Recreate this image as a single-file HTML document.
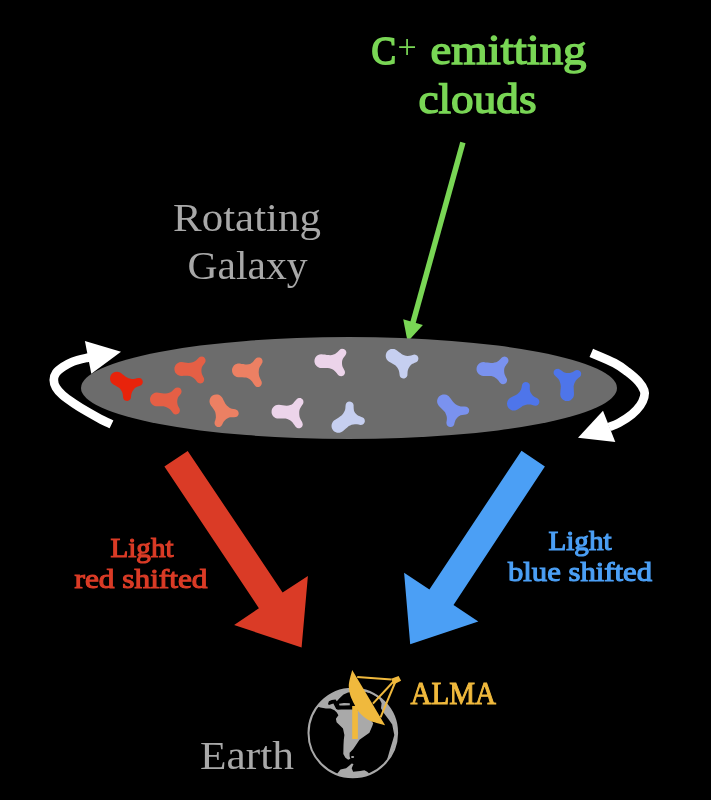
<!DOCTYPE html>
<html><head><meta charset="utf-8"><style>
html,body{margin:0;padding:0;background:#000;width:711px;height:800px;overflow:hidden}
svg{display:block;will-change:transform}
</style></head><body>
<svg width="711" height="800" viewBox="0 0 711 800">
<rect width="711" height="800" fill="#000"/>
<!-- texts -->
<g font-family="Liberation Serif" fill="#79d655" stroke="#79d655" stroke-width="1.4">
<text x="371.5" y="64" font-size="40" stroke-width="1.9" textLength="24.5" lengthAdjust="spacingAndGlyphs">C</text>
<text x="397.5" y="57.8" font-size="34" stroke-width="0">+</text>
<text x="430.5" y="63.8" font-size="41.5" textLength="156" lengthAdjust="spacingAndGlyphs">emitting</text>
<text x="418.5" y="112.8" font-size="41.5" textLength="118" lengthAdjust="spacingAndGlyphs">clouds</text>
</g>
<g font-family="Liberation Serif" fill="#a8a8a8">
<text x="173" y="231" font-size="41" textLength="148" lengthAdjust="spacingAndGlyphs">Rotating</text>
<text x="187.5" y="278.7" font-size="41" textLength="120" lengthAdjust="spacingAndGlyphs">Galaxy</text>
<text x="200" y="768.5" font-size="40" textLength="94" lengthAdjust="spacingAndGlyphs">Earth</text>
</g>
<g font-family="Liberation Serif" stroke-width="1.1">
<text x="110.5" y="556.8" font-size="26.8" fill="#da3b26" stroke="#da3b26" textLength="63" lengthAdjust="spacingAndGlyphs">Light</text>
<text x="74.5" y="588" font-size="27.5" fill="#da3b26" stroke="#da3b26" textLength="133" lengthAdjust="spacingAndGlyphs">red shifted</text>
<text x="548.5" y="549.6" font-size="26.8" fill="#4b9ff5" stroke="#4b9ff5" textLength="63" lengthAdjust="spacingAndGlyphs">Light</text>
<text x="508" y="580.5" font-size="27.5" fill="#4b9ff5" stroke="#4b9ff5" textLength="144" lengthAdjust="spacingAndGlyphs">blue shifted</text>
</g>
<text x="410.5" y="704.3" font-family="Liberation Serif" font-size="31" fill="#f0b93d" stroke="#f0b93d" stroke-width="1.0" textLength="85.5" lengthAdjust="spacingAndGlyphs">ALMA</text>
<!-- green arrow -->
<line x1="462.9" y1="142.4" x2="411.5" y2="328" stroke="#79d655" stroke-width="5.5"/>
<polygon fill="#79d655" points="403.2,319.3 407.6,341.8 422.9,325"/>
<!-- galaxy -->
<ellipse cx="349" cy="388" rx="268" ry="51" fill="#6c6c6c"/>
<path fill="#e8230b" d="M128.2 400.8 L129.5 400.1 L130.5 399.0 L131.0 397.6 L131.1 395.8 L131.4 394.0 L131.9 392.4 L132.5 391.2 L133.3 390.0 L134.2 388.8 L135.3 387.8 L136.5 387.1 L137.9 386.5 L139.3 386.0 L140.7 385.4 L141.9 384.4 L142.6 383.2 L142.8 381.4 L142.3 380.0 L141.3 378.8 L140.1 378.1 L138.3 377.9 L136.7 378.3 L135.1 378.7 L133.5 379.0 L131.7 379.0 L129.9 378.6 L128.5 378.2 L127.1 377.6 L125.7 376.8 L124.7 376.0 L123.5 375.0 L122.4 374.2 L121.3 373.3 L120.1 372.5 L118.7 371.9 L116.9 371.7 L115.1 371.9 L113.7 372.5 L112.5 373.3 L111.5 374.3 L110.7 375.6 L110.2 377.0 L110.0 378.8 L110.3 380.6 L110.9 382.0 L111.7 383.1 L112.7 384.1 L113.9 384.8 L115.3 385.6 L116.5 386.3 L117.7 387.0 L119.0 387.8 L120.1 388.8 L120.9 389.9 L121.7 391.2 L122.3 392.5 L122.7 394.0 L122.9 395.8 L123.1 397.8 L123.7 399.2 L124.6 400.2 L125.9 400.8 L127.9 400.9Z"/>
<path fill="#e55f45" d="M201.4 383.3 L202.7 382.7 L203.7 381.5 L204.2 380.1 L204.0 378.3 L203.3 376.9 L202.7 375.7 L202.0 374.3 L201.6 372.7 L201.4 370.9 L201.5 369.1 L201.8 367.5 L202.5 366.1 L203.3 364.9 L204.2 363.7 L205.1 362.5 L205.6 361.1 L205.4 359.3 L204.7 357.9 L203.7 357.1 L202.1 356.5 L200.2 356.7 L199.0 357.5 L198.0 358.5 L197.0 359.5 L196.0 360.5 L194.8 361.3 L193.4 362.0 L191.8 362.5 L190.2 362.8 L188.4 362.9 L186.7 362.7 L184.8 362.5 L183.2 362.3 L181.2 362.1 L179.4 362.3 L178.0 362.9 L176.8 363.7 L175.8 364.7 L175.1 366.0 L174.5 367.5 L174.4 369.3 L174.7 371.0 L175.2 372.4 L176.1 373.5 L177.1 374.5 L178.4 375.3 L179.8 375.8 L181.8 375.9 L183.8 375.8 L185.8 375.8 L187.8 375.8 L189.6 376.1 L191.1 376.6 L192.4 377.3 L193.6 378.1 L194.7 379.0 L195.7 380.1 L196.4 381.1 L197.3 382.3 L198.5 383.1 L200.2 383.5Z"/>
<path fill="#ec8063" d="M259.0 386.9 L260.3 386.2 L261.3 385.1 L261.8 383.6 L261.7 381.8 L261.1 380.4 L260.4 379.1 L259.7 377.6 L259.2 376.2 L258.9 374.6 L258.7 372.6 L258.8 370.6 L259.0 368.9 L259.5 367.4 L260.3 366.1 L261.1 364.9 L261.8 363.6 L262.5 362.2 L262.5 360.4 L261.9 359.1 L261.0 358.1 L259.7 357.4 L257.7 357.4 L256.3 358.0 L255.3 359.0 L254.4 360.1 L253.5 361.2 L252.6 362.2 L251.5 363.1 L250.1 363.9 L248.7 364.3 L246.9 364.6 L245.1 364.4 L243.3 364.1 L241.5 363.9 L239.9 363.6 L237.9 363.6 L236.3 364.0 L235.1 364.6 L233.9 365.6 L233.1 366.7 L232.4 368.1 L232.0 369.6 L232.1 371.6 L232.5 373.1 L233.3 374.4 L234.2 375.4 L235.3 376.3 L236.7 376.9 L238.3 377.3 L240.3 377.3 L242.3 377.3 L244.3 377.4 L246.1 377.6 L247.5 378.1 L248.9 378.8 L250.1 379.6 L251.1 380.4 L252.1 381.5 L252.9 382.7 L253.7 383.9 L254.5 385.1 L255.5 386.2 L256.8 386.9 L258.7 386.9Z"/>
<path fill="#e55f45" d="M175.9 414.4 L177.6 414.0 L178.8 413.2 L179.6 412.0 L179.9 410.4 L179.6 408.8 L178.9 407.6 L178.2 406.2 L177.6 404.8 L177.3 403.1 L177.2 401.2 L177.4 399.4 L177.9 397.8 L178.6 396.6 L179.5 395.5 L180.3 394.4 L181.2 393.2 L181.6 391.6 L181.3 389.9 L180.5 388.6 L179.3 387.8 L177.7 387.4 L175.9 387.8 L174.7 388.6 L173.7 389.6 L172.7 390.6 L171.7 391.5 L170.5 392.2 L169.1 392.8 L167.5 393.2 L165.7 393.5 L163.7 393.4 L162.0 393.2 L160.3 392.9 L158.5 392.7 L156.7 392.5 L154.9 392.8 L153.5 393.4 L152.4 394.2 L151.4 395.2 L150.7 396.4 L150.1 398.0 L150.0 399.8 L150.3 401.4 L150.9 402.8 L151.8 404.0 L152.9 405.0 L154.1 405.7 L155.7 406.2 L157.5 406.3 L159.5 406.3 L161.5 406.3 L163.5 406.3 L165.1 406.7 L166.5 407.2 L167.9 407.9 L169.1 408.7 L170.2 409.6 L171.1 410.6 L172.0 411.8 L172.9 413.0 L173.9 413.9 L175.5 414.4Z"/>
<path fill="#ec8063" d="M219.7 426.9 L221.0 426.2 L222.0 425.1 L222.6 423.8 L223.2 422.5 L224.0 421.3 L225.0 420.2 L226.0 419.3 L227.2 418.5 L228.6 417.7 L230.0 417.3 L232.0 417.2 L234.0 417.3 L235.9 417.1 L237.2 416.4 L238.2 415.3 L238.7 413.9 L238.5 412.1 L237.8 410.8 L236.8 409.9 L235.2 409.3 L233.6 409.1 L231.8 408.7 L230.4 408.2 L229.1 407.5 L228.0 406.6 L227.0 405.7 L226.0 404.6 L225.2 403.4 L224.5 402.1 L223.8 400.7 L223.2 399.5 L222.5 398.1 L221.7 396.9 L220.7 395.9 L219.4 395.1 L218.0 394.6 L216.2 394.4 L214.4 394.7 L213.0 395.3 L211.9 396.1 L210.9 397.1 L210.2 398.3 L209.6 399.9 L209.5 401.7 L209.8 403.3 L210.4 404.7 L211.2 405.9 L212.1 407.1 L212.9 408.3 L213.8 409.5 L214.6 410.7 L215.2 412.1 L215.6 413.7 L215.8 415.3 L215.9 417.3 L215.6 419.0 L215.2 420.5 L214.6 422.1 L214.6 423.9 L215.2 425.3 L216.1 426.3 L217.4 426.9 L219.4 427.0Z"/>
<path fill="#ecd4ea" d="M342.2 376.1 L343.5 375.4 L344.5 374.3 L345.0 372.9 L344.8 371.1 L344.1 369.7 L343.5 368.5 L342.7 367.1 L342.3 365.7 L342.0 363.9 L342.0 361.9 L342.3 360.2 L342.9 358.8 L343.7 357.6 L344.5 356.5 L345.4 355.3 L346.1 354.1 L346.4 352.3 L345.9 350.8 L345.0 349.7 L343.7 348.9 L341.9 348.7 L340.3 349.3 L339.3 350.2 L338.3 351.2 L337.3 352.2 L336.3 353.1 L335.0 353.9 L333.5 354.5 L332.0 354.9 L330.3 355.2 L328.3 355.1 L326.7 354.9 L324.9 354.6 L323.1 354.4 L321.3 354.2 L319.5 354.4 L318.1 355.0 L316.9 355.8 L315.9 356.8 L315.1 358.1 L314.6 359.5 L314.4 361.3 L314.7 363.1 L315.3 364.5 L316.1 365.6 L317.1 366.6 L318.3 367.3 L319.9 367.9 L321.7 368.0 L323.7 368.0 L325.7 368.0 L327.7 368.0 L329.5 368.2 L331.0 368.7 L332.3 369.3 L333.6 370.1 L334.7 370.9 L335.7 371.9 L336.6 373.1 L337.5 374.3 L338.4 375.3 L339.7 376.1 L341.5 376.3Z"/>
<path fill="#ecd4ea" d="M299.7 428.3 L301.2 427.6 L302.2 426.5 L302.8 424.7 L302.4 422.7 L301.7 421.3 L300.9 419.9 L300.2 418.5 L299.6 416.9 L299.3 414.9 L299.2 412.9 L299.3 410.9 L299.8 409.1 L300.5 407.7 L301.4 406.3 L302.2 405.1 L303.1 403.7 L303.5 401.9 L303.1 400.1 L302.1 398.9 L300.7 398.1 L298.6 398.0 L297.1 398.7 L296.0 399.9 L295.0 401.1 L294.0 402.3 L293.0 403.4 L291.8 404.4 L290.3 405.1 L288.6 405.6 L286.6 405.8 L284.6 405.6 L282.6 405.3 L280.8 405.1 L278.8 404.8 L276.8 405.0 L275.2 405.6 L273.9 406.5 L272.8 407.7 L272.0 409.1 L271.6 410.7 L271.6 412.9 L272.1 414.5 L272.9 415.9 L274.0 417.0 L275.4 417.9 L277.0 418.5 L279.0 418.6 L281.2 418.6 L283.4 418.6 L285.6 418.6 L287.4 419.0 L289.0 419.7 L290.4 420.5 L291.6 421.5 L292.6 422.5 L293.6 423.9 L294.4 425.1 L295.4 426.5 L296.4 427.6 L297.9 428.3Z"/>
<path fill="#c6cff0" d="M404.4 378.4 L405.8 377.8 L406.8 376.8 L407.4 375.4 L407.5 373.6 L407.6 371.7 L407.9 370.0 L408.5 368.6 L409.2 367.2 L410.0 366.0 L410.9 365.0 L412.0 364.1 L413.4 363.4 L414.8 362.8 L416.1 362.2 L417.3 361.4 L418.1 360.2 L418.4 358.6 L418.1 357.0 L417.3 355.8 L416.1 355.0 L414.4 354.6 L412.6 355.0 L411.1 355.4 L409.6 355.8 L407.6 356.0 L405.8 355.7 L404.2 355.2 L402.8 354.7 L401.6 354.0 L400.4 353.1 L399.2 352.2 L398.2 351.4 L397.0 350.5 L395.8 349.7 L394.4 349.1 L392.6 348.9 L390.8 349.1 L389.4 349.7 L388.2 350.5 L387.2 351.5 L386.4 352.8 L385.9 354.2 L385.7 356.0 L386.0 357.8 L386.6 359.2 L387.4 360.3 L388.4 361.3 L389.6 362.0 L391.0 362.8 L392.2 363.5 L393.5 364.2 L394.8 365.0 L395.8 365.8 L396.8 366.9 L397.6 368.0 L398.4 369.4 L398.9 370.8 L399.3 372.4 L399.5 374.2 L399.8 376.0 L400.5 377.2 L401.6 378.0 L403.2 378.5Z"/>
<path fill="#c6cff0" d="M339.6 432.7 L341.0 432.3 L342.4 431.5 L343.4 430.7 L344.5 429.7 L345.6 428.8 L346.6 427.9 L347.8 426.9 L348.8 426.1 L350.2 425.4 L351.6 424.8 L353.2 424.4 L355.0 424.2 L357.0 424.2 L358.6 424.5 L360.4 424.9 L362.2 424.7 L363.5 423.9 L364.4 422.8 L364.9 421.3 L364.6 419.5 L363.9 418.3 L362.8 417.4 L361.4 416.9 L359.8 416.3 L358.4 415.7 L357.2 414.9 L356.2 414.0 L355.2 412.9 L354.4 411.7 L353.9 410.3 L353.7 408.5 L353.6 406.5 L353.6 405.1 L353.1 403.5 L352.2 402.5 L350.8 401.7 L349.0 401.5 L347.5 402.1 L346.4 403.1 L345.8 404.3 L345.5 406.1 L345.4 407.9 L345.1 409.7 L344.6 411.1 L343.8 412.5 L343.0 413.7 L342.2 414.7 L341.2 415.7 L340.0 416.6 L338.8 417.4 L337.6 418.2 L336.4 419.0 L335.2 419.8 L334.0 420.6 L333.0 421.6 L332.2 422.9 L331.7 424.3 L331.5 426.1 L331.8 427.9 L332.4 429.3 L333.2 430.4 L334.2 431.4 L335.4 432.1 L337.0 432.7 L338.8 432.8Z"/>
<path fill="#7a92ef" d="M504.0 384.1 L505.4 383.5 L506.4 382.5 L507.0 381.1 L507.0 379.3 L506.4 377.9 L505.7 376.7 L505.0 375.3 L504.5 373.9 L504.2 372.3 L504.1 370.3 L504.3 368.5 L504.8 367.0 L505.6 365.7 L506.4 364.6 L507.2 363.5 L508.1 362.3 L508.5 360.7 L508.2 359.0 L507.4 357.7 L506.2 356.9 L504.6 356.5 L502.8 356.9 L501.6 357.7 L500.7 358.7 L499.7 359.7 L498.7 360.7 L497.6 361.5 L496.2 362.2 L494.6 362.6 L493.0 363.0 L491.0 363.1 L489.2 362.8 L487.4 362.6 L485.6 362.4 L483.8 362.1 L481.8 362.3 L480.4 362.8 L479.2 363.5 L478.2 364.5 L477.3 365.7 L476.8 367.1 L476.5 368.9 L476.7 370.7 L477.2 372.1 L478.0 373.3 L479.0 374.3 L480.2 375.1 L481.8 375.7 L483.6 375.9 L485.6 375.9 L487.6 375.9 L489.6 375.9 L491.4 376.1 L492.9 376.5 L494.2 377.1 L495.6 377.9 L496.7 378.7 L497.7 379.7 L498.6 380.8 L499.4 381.9 L500.3 383.1 L501.6 383.9 L503.2 384.2Z"/>
<path fill="#7a92ef" d="M450.4 427.1 L452.1 426.7 L453.3 425.9 L454.1 424.7 L454.5 423.1 L455.0 421.5 L455.5 420.1 L456.2 418.9 L457.2 417.7 L458.2 416.7 L459.3 415.9 L460.6 415.3 L462.2 414.9 L464.0 414.7 L465.8 414.5 L467.3 413.9 L468.4 412.9 L469.0 411.7 L469.2 410.1 L468.7 408.5 L467.8 407.5 L466.4 406.7 L464.6 406.5 L462.8 406.5 L460.8 406.4 L459.2 406.1 L457.8 405.5 L456.4 404.7 L455.2 403.9 L454.2 403.1 L453.2 401.9 L452.4 400.9 L451.5 399.7 L450.6 398.6 L449.8 397.5 L448.8 396.3 L447.7 395.5 L446.4 394.8 L444.8 394.4 L442.8 394.5 L441.4 394.9 L440.0 395.7 L439.0 396.5 L438.1 397.7 L437.5 399.1 L437.1 400.7 L437.2 402.5 L437.7 404.1 L438.4 405.3 L439.4 406.4 L440.4 407.4 L441.4 408.4 L442.4 409.4 L443.4 410.4 L444.4 411.4 L445.2 412.6 L445.8 413.9 L446.4 415.5 L446.8 417.1 L446.9 418.9 L446.7 420.7 L446.4 422.5 L446.6 424.3 L447.4 425.7 L448.4 426.6 L450.0 427.1Z"/>
<path fill="#4e75ea" d="M515.1 410.5 L516.5 410.1 L517.9 409.3 L519.1 408.5 L520.2 407.7 L521.4 406.9 L522.5 406.1 L523.9 405.4 L525.4 404.9 L527.1 404.6 L528.9 404.4 L530.7 404.6 L532.3 405.0 L533.9 405.5 L535.5 405.8 L537.1 405.4 L538.3 404.6 L539.1 403.3 L539.4 401.7 L539.0 400.1 L538.2 398.9 L536.9 398.1 L535.7 397.5 L534.3 396.7 L533.2 395.9 L532.3 394.9 L531.4 393.7 L530.6 392.5 L530.0 391.1 L529.8 389.3 L529.8 387.3 L529.9 385.7 L529.5 384.1 L528.5 382.9 L527.3 382.2 L525.5 381.9 L523.9 382.4 L522.9 383.3 L522.1 384.7 L521.8 386.3 L521.5 387.9 L521.0 389.5 L520.3 390.8 L519.5 391.9 L518.5 393.0 L517.5 394.0 L516.3 394.8 L515.0 395.5 L513.7 396.1 L512.3 396.8 L510.9 397.5 L509.7 398.2 L508.7 399.2 L507.9 400.3 L507.3 401.7 L507.0 403.5 L507.2 405.3 L507.7 406.7 L508.5 408.0 L509.5 409.0 L510.7 409.8 L512.1 410.4 L513.9 410.6Z"/>
<path fill="#4e75ea" d="M568.7 400.9 L570.2 400.4 L571.4 399.6 L572.4 398.6 L573.2 397.4 L573.8 395.9 L574.0 394.1 L573.9 392.1 L573.8 390.3 L573.7 388.3 L573.6 386.3 L574.0 384.5 L574.5 383.1 L575.2 381.7 L575.9 380.5 L576.8 379.5 L577.8 378.5 L579.0 377.6 L580.1 376.7 L580.9 375.5 L581.2 373.7 L580.8 372.1 L579.8 370.9 L578.6 370.2 L576.8 369.9 L575.2 370.4 L574.0 371.2 L572.8 371.9 L571.4 372.5 L569.8 373.0 L568.0 373.1 L566.2 373.0 L564.6 372.6 L563.3 371.9 L562.2 371.1 L561.0 370.2 L559.8 369.4 L558.4 368.8 L556.4 368.9 L555.2 369.5 L554.2 370.6 L553.6 372.1 L553.7 373.7 L554.4 375.1 L555.4 376.1 L556.4 377.1 L557.4 378.0 L558.4 379.1 L559.2 380.3 L559.8 381.7 L560.2 383.1 L560.6 384.7 L560.8 386.5 L560.7 388.3 L560.5 390.1 L560.4 391.9 L560.2 393.9 L560.4 395.8 L560.9 397.3 L561.7 398.5 L562.7 399.5 L563.9 400.3 L565.4 400.9 L567.2 401.1Z"/>
<!-- white arrows -->
<path d="M111.5 424.3 C109.58 423.38 104.08 420.92 100 418.8 C95.92 416.68 91.30 414.13 87 411.6 C82.70 409.07 78.28 406.37 74.2 403.6 C70.12 400.83 65.53 397.68 62.5 395 C59.47 392.32 57.45 390.00 56 387.5 C54.55 385.00 53.80 382.42 53.8 380 C53.80 377.58 54.47 375.18 56 373 C57.53 370.82 60.23 368.78 63 366.9 C65.77 365.02 68.52 363.23 72.6 361.7 C76.68 360.17 84.27 358.48 87.5 357.7 C90.73 356.92 91.25 357.12 92 357" fill="none" stroke="#fff" stroke-width="8.7"/>
<polygon fill="#fff" points="84.9,341.1 121,351.8 91.3,373.7"/>
<path d="M591.3 352.9 C595.15 354.58 608.37 359.85 614.4 363 C620.43 366.15 623.48 368.72 627.5 371.8 C631.52 374.88 635.72 378.37 638.5 381.5 C641.28 384.63 643.25 388.05 644.2 390.6 C645.15 393.15 644.87 394.32 644.2 396.8 C643.53 399.28 642.25 402.58 640.2 405.5 C638.15 408.42 635.47 411.38 631.9 414.3 C628.33 417.22 622.62 420.88 618.8 423 C614.98 425.12 610.63 426.33 609 427" fill="none" stroke="#fff" stroke-width="8.8"/>
<polygon fill="#fff" points="603,410.8 578,437.8 615.3,442"/>
<!-- red arrow -->
<polygon fill="#da3b26" points="164.4,466.4 187.7,450.9 282.6,592.5 307.9,576.1 301.6,647.5 234.1,625 258.9,608.2"/>
<!-- blue arrow -->
<polygon fill="#4b9ff5" points="544.9,466.4 521.5,450.7 429.4,589.4 404.1,572.7 410.2,644.2 478.3,621.6 453.5,605"/>
<!-- globe -->
<circle cx="352.8" cy="733" r="44" fill="#a9a9a9"/>
<path fill="#000" d="M318.2 706.8 L320.4 707.4 L326.0 708.5 L330.6 708.5 L334.5 710.2 L336.8 712.4 L338.4 715.3 L335.9 718.8 L336.6 722.3 L340.2 725.8 L343.0 728.6 L344.4 735.0 L343.8 739.7 L343.5 745.0 L343.3 754.1 L345.4 757.7 L348.2 759.8 L350.3 758.7 L349.6 756.3 L349.6 752.7 L353.1 749.2 L356.0 745.0 L359.5 739.7 L369.4 732.8 L372.3 725.9 L373.2 723.3 L368.0 716.0 L360.0 711.0 L352.0 709.5 L345.0 709.5 L341.3 709.5 L337.9 709.8 L336.2 709.0 L334.5 705.7 L333.4 703.4 L328.9 705.1 L328.0 704.0 L328.9 701.2 L331.7 700.0 L335.6 699.5 L336.8 701.2 L340.0 697.8 L343.5 694.4 L348.0 692.5 L358.0 691.0 L366.0 692.0 L373.0 694.0 L379.5 699.0 L381.6 703.3 L381.0 708.2 L383.8 713.0 L388.7 719.5 L392.2 724.4 L394.3 735.0 L393.0 739.7 L390.0 749.5 L388.0 756.4 L386.0 763.0 L387.7 764.5 L384.6 767.6 L381.3 770.4 L377.7 772.8 L374.0 775.0 L370.0 776.7 L368.6 773.1 L367.2 771.7 L364.4 770.3 L360.2 771.0 L353.1 771.7 L351.7 768.2 L353.5 764.0 L351.7 763.6 L348.9 766.1 L346.1 768.2 L340.5 769.6 L337.7 773.1 L336.2 777.0 L332.4 775.3 L328.8 773.4 L325.3 771.1 L322.0 768.5 L319.0 765.7 L316.2 762.5 L313.8 759.2 L311.6 755.6 L309.8 751.9 L308.3 748.0 L307.1 744.0 L306.3 740.0 L305.9 735.8 L305.8 731.7 L306.1 727.5 L306.8 723.4 L307.8 719.4 L309.2 715.5 L310.9 711.7 L313.0 708.1 L315.3 704.6Z"/>
<ellipse cx="352.6" cy="757" rx="1.6" ry="1.1" fill="#a9a9a9"/>
<path fill="#a9a9a9" d="M339 703.8 L344 703 L349.8 703.3 L349.8 705.2 L344 705.5 L339.5 705.6Z"/>
<circle cx="352.8" cy="733" r="44.3" fill="none" stroke="#a9a9a9" stroke-width="2"/>
<!-- antenna -->
<g fill="#f0b93d">
<rect x="352.2" y="706" width="5.7" height="33"/>
<path d="M352.2 669.9 C351.72 671.80 349.85 678.32 349.3 681.3 C348.75 684.28 348.70 685.37 348.9 687.8 C349.10 690.23 349.62 693.20 350.5 695.9 C351.38 698.60 352.90 701.43 354.2 704 C355.50 706.57 356.67 709.13 358.3 711.3 C359.93 713.47 361.97 715.37 364 717 C366.03 718.63 368.07 720.02 370.5 721.1 C372.93 722.18 376.17 722.82 378.6 723.5 C381.03 724.18 384.02 724.92 385.1 725.2Z"/>
<polygon points="391.2,678.8 398.6,676 401.1,680.7 393.5,684.5"/>
</g>
<g stroke="#f0b93d" stroke-width="2" fill="none">
<line x1="357.2" y1="677" x2="391.5" y2="679.4"/>
<line x1="372.9" y1="703.6" x2="393.5" y2="681.5"/>
<line x1="380.5" y1="717.3" x2="395.5" y2="681.5"/>
</g>
</svg>
</body></html>
